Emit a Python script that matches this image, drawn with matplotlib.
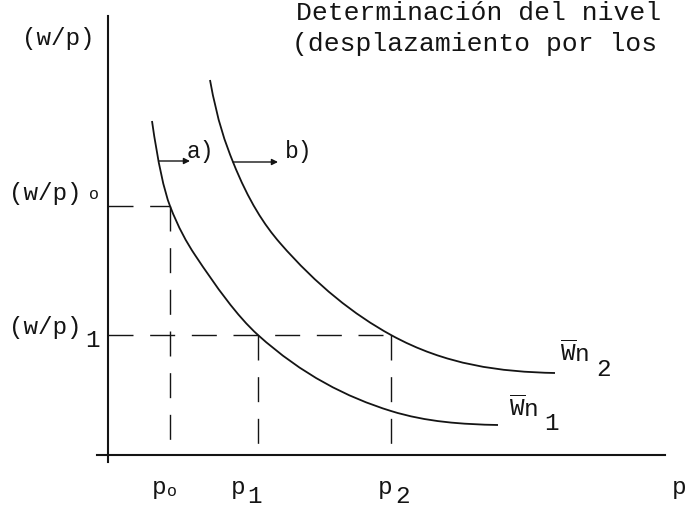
import matplotlib.pyplot as plt
from matplotlib.path import Path
from matplotlib.patches import PathPatch

plt.rcParams['font.family'] = ['Liberation Mono', 'DejaVu Sans Mono']
plt.rcParams['mathtext.fontset'] = 'custom'
plt.rcParams['mathtext.tt'] = 'Liberation Mono'
plt.rcParams['mathtext.rm'] = 'Liberation Mono'

# key points (p, w/p) and the slope of the curve there
wn1_p = [44, 62, 87, 150, 283, 390]
wn1_w = [334, 249, 200, 120, 44, 30]
wn1_slope = [-7.0, -2.6, -1.5, -0.9, -0.31, -0.02]

wn2_p = [102, 125, 172, 283, 447]
wn2_w = [375, 293, 212, 120, 82]
wn2_slope = [-5.5, -2.5, -1.15, -0.55, -0.02]

# equilibrium levels
p_levels = [62, 150, 283]      # p0, p1, p2
w_levels = [249, 120]          # (w/p)0, (w/p)1

title_lines = ['Determinación del nivel', '(desplazamiento por los']


def smooth_curve(ps, ws, slopes):
    # cubic bezier pieces through the read points, tangents from the read slopes
    verts = [(ps[0], ws[0])]
    codes = [Path.MOVETO]
    for i in range(len(ps) - 1):
        h = (ps[i + 1] - ps[i]) / 3.0
        verts.append((ps[i] + h, ws[i] + h * slopes[i]))
        verts.append((ps[i + 1] - h, ws[i + 1] - h * slopes[i + 1]))
        verts.append((ps[i + 1], ws[i + 1]))
        codes += [Path.CURVE4] * 3
    return Path(verts, codes)


fig = plt.figure(figsize=(6.87, 5.09), dpi=100)
ax = fig.add_axes([0, 0, 1, 1])
ax.set_xlim(-108, 579)
ax.set_ylim(-54, 455)
ax.axis('off')

ink = '#141414'
fs = 17.5

# axes
ax.plot([0, 0], [-7, 439], color=ink, lw=1.5)
ax.plot([-11, 557], [0, 0], color=ink, lw=1.5)

# curves
for ps, ws, sl in [(wn1_p, wn1_w, wn1_slope), (wn2_p, wn2_w, wn2_slope)]:
    ax.add_patch(PathPatch(smooth_curve(ps, ws, sl), fill=False,
                           edgecolor=ink, lw=1.3))

# dashed guides
dash = dict(color=ink, lw=1.0, dashes=(18, 12))
p0, p1, p2 = p_levels
w0, w1 = w_levels
ax.plot([0, p0], [w0, w0], **dash)
ax.plot([p0, p0], [w0, 0], **dash)
ax.plot([0, p2], [w1, w1], **dash)
ax.plot([p1, p1], [w1, 0], **dash)
ax.plot([p2, p2], [w1, 0], **dash)

# shift arrows
arr = dict(arrowstyle='-|>', color=ink, lw=1.0, mutation_scale=9,
           shrinkA=0, shrinkB=0)
ax.annotate('', xy=(82, 294), xytext=(51, 294), arrowprops=arr)
ax.annotate('', xy=(170, 293), xytext=(125, 293), arrowprops=arr)
ax.text(79, 297, 'a)', fontsize=fs - 1, color=ink, va='baseline')
ax.text(177, 297, 'b)', fontsize=fs - 1, color=ink, va='baseline')

# title
ax.text(188, 435, title_lines[0], fontsize=19, color=ink, va='baseline')
ax.text(184, 404, title_lines[1], fontsize=19, color=ink, va='baseline')

# y labels
ax.text(-86, 410, '(w/p)', fontsize=fs, color=ink, va='baseline')
ax.text(-99, 255, '(w/p)', fontsize=fs, color=ink, va='baseline')
ax.text(-19, 256, 'o', fontsize=12, color=ink, va='baseline')
ax.text(-99, 121, '(w/p)', fontsize=fs, color=ink, va='baseline')
ax.text(-23, 108, '1', fontsize=fs, color=ink, va='baseline')

# x labels
ax.text(44, -39, 'p', fontsize=fs, color=ink, va='baseline')
ax.text(59, -41, 'o', fontsize=12, color=ink, va='baseline')
ax.text(123, -39, 'p', fontsize=fs, color=ink, va='baseline')
ax.text(139, -48, '1', fontsize=fs, color=ink, va='baseline')
ax.text(270, -39, 'p', fontsize=fs, color=ink, va='baseline')
ax.text(287, -48, '2', fontsize=fs, color=ink, va='baseline')
ax.text(564, -39, 'p', fontsize=fs, color=ink, va='baseline')

# curve labels
wn = r'$\overline{\mathtt{W}}\mathtt{n}$'
ax.text(452, 93, wn, fontsize=fs, color=ink, va='baseline')
ax.text(488, 79, '2', fontsize=fs, color=ink, va='baseline')
ax.text(401, 38, wn, fontsize=fs, color=ink, va='baseline')
ax.text(436, 25, '1', fontsize=fs, color=ink, va='baseline')

fig.savefig('out.png', dpi=100)
